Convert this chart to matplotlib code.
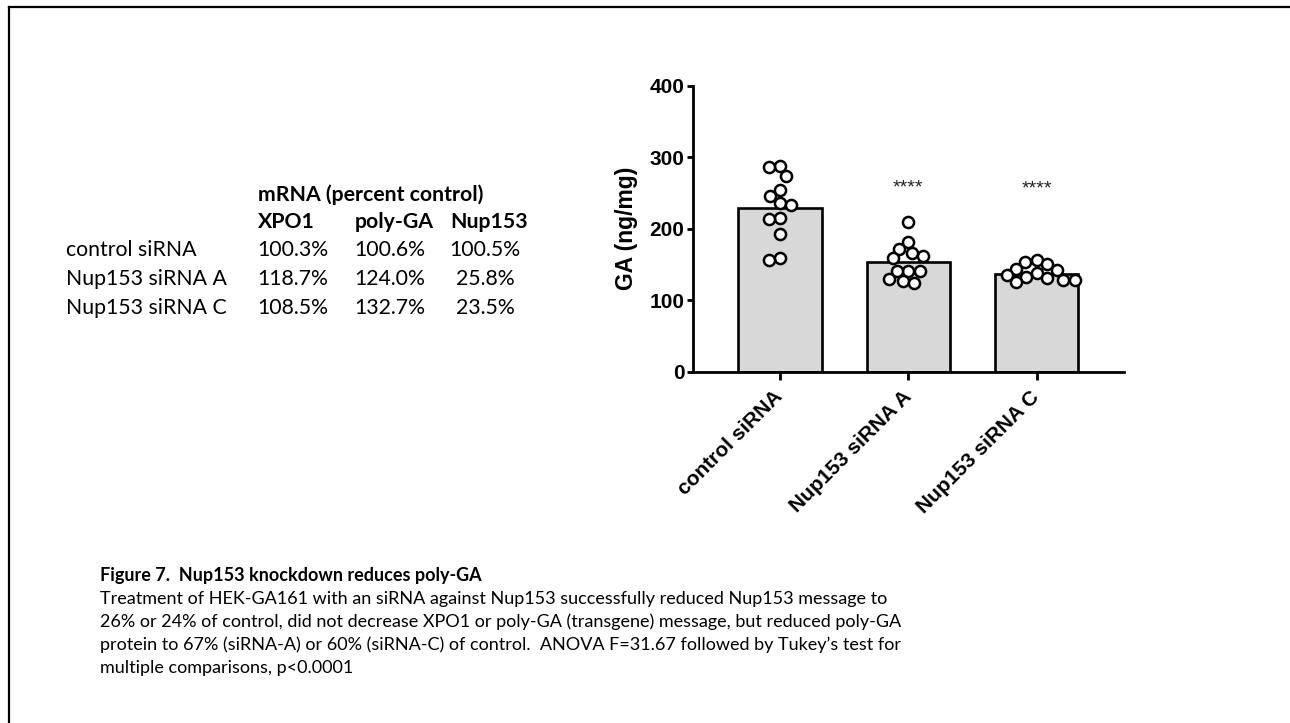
import matplotlib
matplotlib.use("Agg")
import matplotlib.pyplot as plt
from matplotlib.lines import Line2D
import numpy as np

# ---------------- data ----------------
groups = ["control siRNA", "Nup153 siRNA A", "Nup153 siRNA C"]
ga_control = [287.7, 285.9, 274.0, 254.0, 246.0, 235.5, 233.0, 215.0, 213.6, 192.0, 158.6, 156.0]
ga_sirna_a = [209.0, 181.8, 171.6, 166.4, 162.2, 158.6, 141.3, 141.3, 141.3, 129.2, 127.3, 123.6]
ga_sirna_c = [156.2, 153.4, 150.6, 143.2, 142.2, 137.6, 135.2, 132.0, 130.6, 128.3, 128.3, 125.0]
bar_means = [228.5, 153.8, 136.2]
significance = ["", "****", "****"]
star_level = [257, 257, 255]
yticks = [0, 100, 200, 300, 400]
ylabel = "GA (ng/mg)"

table_title = "mRNA (percent control)"
table_cols = ["XPO1", "poly-GA", "Nup153"]
table_rows = ["control siRNA", "Nup153 siRNA A", "Nup153 siRNA C"]
xpo1_pct = ["100.3%", "118.7%", "108.5%"]
polyga_pct = ["100.6%", "124.0%", "132.7%"]
nup153_pct = ["100.5%", "25.8%", "23.5%"]

caption_title = "Figure 7.  Nup153 knockdown reduces poly-GA"
caption_lines = [
    "Treatment of HEK-GA161 with an siRNA against Nup153 successfully reduced Nup153 message to",
    "26% or 24% of control, did not decrease XPO1 or poly-GA (transgene) message, but reduced poly-GA",
    "protein to 67% (siRNA-A) or 60% (siRNA-C) of control.  ANOVA F=31.67 followed by Tukey\u2019s test for",
    "multiple comparisons, p<0.0001",
]

# ---------------- figure ----------------
W, H = 1290, 723
fig = plt.figure(figsize=(W / 100, H / 100), dpi=100)
fig.patch.set_facecolor("white")

def fx(px):
    return px / W

def fy(py):
    return 1 - py / H

# page border (top and left only)
fig.add_artist(Line2D([fx(8.5), 1.0], [fy(6.5), fy(6.5)], transform=fig.transFigure,
                      color="black", lw=1.6))
fig.add_artist(Line2D([fx(8.5), fx(8.5)], [0.0, fy(6.5)], transform=fig.transFigure,
                      color="black", lw=1.6))

# ---------------- bar chart ----------------
ax_l, ax_r, ax_t, ax_b = 692.7, 1124.0, 85.7, 371.7
ax = fig.add_axes([fx(ax_l), fy(ax_b), (ax_r - ax_l) / W, (ax_b - ax_t) / H])
xlim = (-0.68, 2.68)
ax.set_xlim(*xlim)
ax.set_ylim(0, 400)

xpos = np.arange(len(groups))
bar_w = 0.647
ax.bar(xpos, bar_means, width=bar_w, color="#d8d8d8", edgecolor="black",
       linewidth=1.9, zorder=2)

# swarm layout of the points (computed, in pixel space)
px_x = (ax_r - ax_l) / (xlim[1] - xlim[0])
px_y = (ax_b - ax_t) / 400.0

def swarm(values, d=11.5):
    vals = np.asarray(values, dtype=float)
    order = np.argsort(-vals)
    placed = []
    offs = np.zeros(len(vals))
    for i in order:
        y = vals[i] * px_y
        cands = [0.0]
        for xj, yj in placed:
            dy = abs(y - yj)
            if dy < d:
                dx = np.sqrt(d * d - dy * dy)
                cands += [xj + dx, xj - dx]
        cands = sorted(cands, key=lambda c: (abs(c), c))
        chosen = 0.0
        for c in cands:
            if all((c - xj) ** 2 + (y - yj) ** 2 >= d * d - 1e-6 for xj, yj in placed):
                chosen = c
                break
        placed.append((chosen, y))
        offs[i] = chosen / px_x
    return offs

for gi, vals in enumerate([ga_control, ga_sirna_a, ga_sirna_c]):
    offs = swarm(vals)
    ax.plot(xpos[gi] + offs, vals, linestyle="none", marker="o", markersize=8.0,
            markerfacecolor="white", markeredgecolor="black", markeredgewidth=1.8,
            zorder=3, clip_on=False)

for gi, s in enumerate(significance):
    if s:
        ax.text(xpos[gi], star_level[gi], s, ha="center", va="center",
                fontsize=14, family="Liberation Sans", color="#222222")

for sp in ["top", "right"]:
    ax.spines[sp].set_visible(False)
for sp in ["left", "bottom"]:
    ax.spines[sp].set_linewidth(2.0)

ax.set_yticks(yticks)
ax.set_yticklabels([str(t) for t in yticks], fontsize=15, fontweight="bold",
                   family="Liberation Sans")
ax.tick_params(axis="y", length=4, width=2.0, pad=2)
ax.tick_params(axis="x", length=6, width=2.0, pad=10)
ax.set_xticks(xpos)
ax.set_xticklabels(groups, rotation=45, ha="right", va="center",
                   rotation_mode="anchor", fontsize=15, fontweight="bold",
                   family="Liberation Sans")
ax.set_ylabel(ylabel, fontsize=16.5, fontweight="bold", family="Liberation Sans",
              labelpad=8)

# ---------------- mRNA table ----------------
tfont = "Lato"
tsize = 15.3
fig.text(fx(258), fy(195), table_title, ha="left", va="center",
         fontsize=tsize, fontweight="bold", family=tfont)
col_left = [258, 355, 450]
col_center = [293, 390, 485]
for cl, name in zip(col_left, table_cols):
    fig.text(fx(cl), fy(221.5), name, ha="left", va="center",
             fontsize=tsize, fontweight="bold", family=tfont)
row_y = [250, 279.5, 308]
for ry, name, a, b, c in zip(row_y, table_rows, xpo1_pct, polyga_pct, nup153_pct):
    fig.text(fx(66), fy(ry), name, ha="left", va="center", fontsize=tsize, family=tfont)
    for cc, v in zip(col_center, [a, b, c]):
        fig.text(fx(cc), fy(ry), v, ha="center", va="center", fontsize=tsize, family=tfont)

# ---------------- caption ----------------
cap_x = 100
cap_y0 = 576
cap_dy = 23
csize = 13
fig.text(fx(cap_x), fy(cap_y0), caption_title, ha="left", va="center",
         fontsize=csize, fontweight="bold", family=tfont)
for k, line in enumerate(caption_lines):
    fig.text(fx(cap_x), fy(cap_y0 + cap_dy * (k + 1)), line, ha="left", va="center",
             fontsize=csize, family=tfont)

fig.savefig("out.png", dpi=100, facecolor="white")
